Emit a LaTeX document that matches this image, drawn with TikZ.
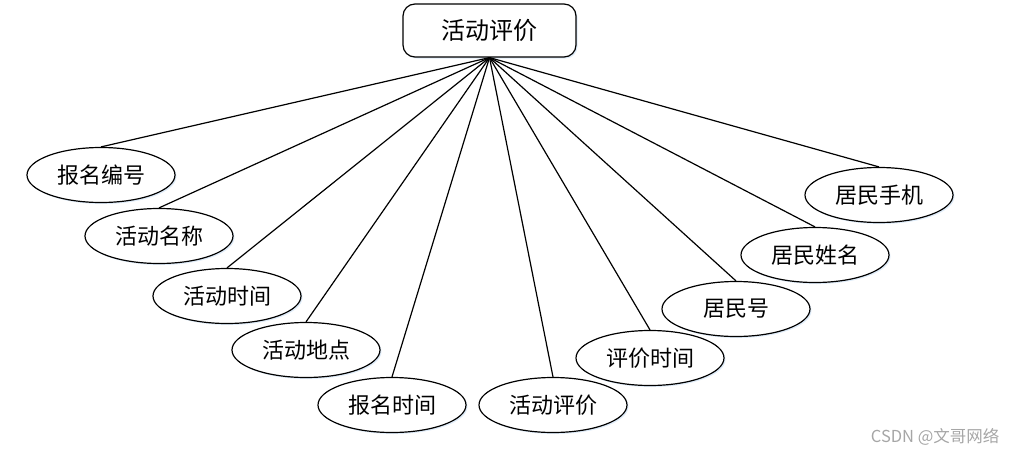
\documentclass[tikz,border=0pt]{standalone}
\usepackage{fontspec}
\setmainfont{Noto Sans CJK SC}
\usetikzlibrary{shapes.geometric,shadows}
\definecolor{glow}{RGB}{222,235,248}

\begin{document}
\begin{tikzpicture}[x=1pt, y=-1pt, font=\fontsize{22}{26}\selectfont, main/.style = {draw, ellipse, line width=1.2pt, minimum width=148pt, minimum height=55pt, inner sep=0pt, fill=white, drop shadow={shadow xshift=1.5pt, shadow yshift=-1.5pt, fill=glow, opacity=1}}, root/.style = {draw, rounded corners=12pt, line width=1.2pt, minimum width=173pt, minimum height=53pt, fill=white, drop shadow={shadow xshift=1.5pt, shadow yshift=-1.5pt, fill=glow, opacity=1}}] 
			\useasboundingbox (0,0) rectangle (1018,455);
			\node[root, font=\fontsize{24}{28}\selectfont] (0) at (489.5,30.5) {活动评价}; 
			\node[main] (1) at (101,175) {报名编号};
			\node[main] (2) at (159,236) {活动名称};
			\node[main] (3) at (227,296) {活动时间};
			\node[main] (4) at (306,350) {活动地点};
			\node[main] (5) at (392,405) {报名时间};
			\node[main] (6) at (553,405) {活动评价};
			\node[main] (7) at (650,358) {评价时间};
			\node[main] (8) at (736,309) {居民号};
			\node[main] (9) at (815,255) {居民姓名};
			\node[main] (10) at (879,195) {居民手机};
			\node[anchor=east, text=gray!70, font=\fontsize{16.5}{20}\selectfont] (11) at (1003,437) {CSDN @文哥网络};
			\draw[line width=1.2pt] (0.south) -- (1.north);
			\draw[line width=1.2pt] (0.south) -- (2.north);
			\draw[line width=1.2pt] (0.south) -- (3.north);
			\draw[line width=1.2pt] (0.south) -- (4.north);
			\draw[line width=1.2pt] (0.south) -- (5.north);
			\draw[line width=1.2pt] (0.south) -- (6.north);
			\draw[line width=1.2pt] (0.south) -- (7.north);
			\draw[line width=1.2pt] (0.south) -- (8.north);
			\draw[line width=1.2pt] (0.south) -- (9.north);
			\draw[line width=1.2pt] (0.south) -- (10.north);
		\end{tikzpicture}
\end{document}
